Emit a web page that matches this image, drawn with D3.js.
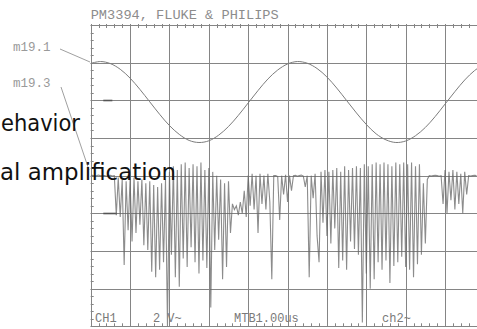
<!DOCTYPE html>
<html>
<head>
<meta charset="utf-8">
<script src="https://cdn.jsdelivr.net/npm/d3@7"></script>
<style>
  html, body { margin: 0; padding: 0; background: #fff; }
  svg { display: block; }
</style>
</head>
<body>
<div id="chart"></div>
<script>
// scope screen: 10 x 8 divisions, both channels 2 V/div, time base 1.00 us/div
const header = 'PM3394, FLUKE & PHILIPS';
const markerLabels = ['m19.1', 'm19.3'];
const footerLabels = ['CH1', '2 V~', 'MTB1.00us', 'ch2~'];
const overlayLabels = ['ehavior', 'al amplification'];

const voltsPerDiv = 2;
const ch1Offset = 2;   // ground level of CH1, in divisions above centre
const ch2Offset = -1;  // ground level of CH2

// CH1, one sample every 0.25 div (volts)
const ch1Step = 0.25;
const ch1Volts = [
  1.96, 2.06, 1.95, 1.65, 1.18, 0.58, -0.08, -0.74, -1.34, -1.81,
  -2.13, -2.24, -2.15, -1.85, -1.39, -0.80, -0.14, 0.52, 1.13, 1.61,
  1.93, 2.06, 1.97, 1.69, 1.24, 0.65, -0.01, -0.67, -1.28, -1.78,
  -2.10, -2.24, -2.16, -1.88, -1.44, -0.86, -0.20, 0.46, 1.08, 1.58,
  1.92
];

// CH2, one sample every 0.05 div (volts)
const ch2Step = 0.05;
const ch2Volts = [
  2.00, 2.02, 1.98, 2.00, 2.03, 1.99, 2.00, 2.01, 1.97, 2.00,
  2.02, 1.98, 2.00, -0.10, 1.90, -0.20, 1.80, -2.75, 1.70, -0.90,
  1.80, -1.50, 1.90, -1.05, 1.70, -0.60, 1.80, -1.70, 1.60, -1.95,
  1.70, -3.10, 1.50, -3.40, 1.40, -3.00, 1.60, -2.60, 1.80, -6.00,
  2.20, -2.20, 2.50, -3.40, 2.30, -3.90, 2.60, -2.40, 2.70, -2.85,
  2.40, -1.80, 2.60, -2.60, 2.50, -3.20, 2.70, -2.50, 2.30, -2.90,
  2.40, -5.00, 2.20, -1.95, 2.00, -1.40, 1.80, -3.50, 1.60, -2.85,
  1.70, -1.05, 0.50, 0.20, 0.40, -0.10, 0.60, 0.00, 1.20, -0.20,
  2.00, 0.40, 2.10, 0.20, 2.00, -1.05, 2.10, 0.50, 2.00, 0.20,
  2.10, 0.60, -3.50, 2.00, 2.00, 1.95, -0.35, 2.00, 1.00, 2.05,
  0.60, 2.00, 1.20, 2.00, 2.02, 1.97, 2.00, 2.03, 1.98, 1.40,
  2.00, -3.40, 2.00, 0.80, 2.10, -1.20, -2.60, 2.20, -0.50, 2.30,
  -1.20, 2.20, -1.60, 2.30, -0.80, 2.40, -2.90, 2.20, -2.50, 2.50,
  -3.00, 2.30, -1.50, 2.40, -1.90, 2.50, -2.20, 2.40, -5.80, 2.60,
  -3.20, 2.50, -4.00, 2.60, -3.50, 2.70, -2.60, 2.60, -3.00, 2.70,
  -2.50, 2.60, -3.70, 2.50, -2.80, 2.70, -2.60, 2.60, -2.30, 2.70,
  -2.85, 2.60, -3.00, 2.70, -3.40, 2.50, -2.70, 2.60, -2.20, 1.60,
  -1.60, 1.80, 2.00, 1.98, 2.00, 2.02, 2.00, 1.97, 2.00, 0.50,
  2.30, 0.00, 2.20, 0.70, 2.30, 0.20, 2.20, 0.50, 2.10, 0.00,
  2.20, 1.00, 2.00, 1.98, 2.00, 2.02, 2.00
];

const width = 477, height = 329;

const x = d3.scaleLinear().domain([0, 10]).range([90.7, 484.4]);
const y = d3.scaleLinear().domain([-4, 4]).range([326.3, 25]);

const svg = d3.select('#chart').append('svg')
  .attr('width', width)
  .attr('height', height)
  .attr('viewBox', [0, 0, width, height]);

svg.append('rect').attr('width', width).attr('height', height).attr('fill', '#fff');

svg.append('clipPath').attr('id', 'screen')
  .append('rect')
  .attr('x', x(0)).attr('y', y(4))
  .attr('width', x(10) - x(0)).attr('height', y(-4) - y(4));

// graticule
const grid = svg.append('g').attr('stroke', '#858585').attr('stroke-width', 1).attr('fill', 'none');

grid.selectAll('line.v')
  .data(d3.range(0, 11))
  .join('line')
  .attr('class', 'v')
  .attr('x1', (d) => Math.round(x(d)) + 0.5).attr('x2', (d) => Math.round(x(d)) + 0.5)
  .attr('y1', y(4)).attr('y2', y(-4));

grid.selectAll('line.h')
  .data(d3.range(-4, 5))
  .join('line')
  .attr('class', 'h')
  .attr('x1', x(0)).attr('x2', x(10))
  .attr('y1', (d) => Math.round(y(d)) + 0.5).attr('y2', (d) => Math.round(y(d)) + 0.5);

// minor ticks, 5 per division, on the border
const minorX = d3.range(0, 50.01).map((d) => d / 5);
const minorY = d3.range(-20, 20.01).map((d) => d / 5);

grid.selectAll('line.tt')
  .data(minorX)
  .join('line')
  .attr('class', 'tt')
  .attr('x1', (d) => Math.round(x(d)) + 0.5).attr('x2', (d) => Math.round(x(d)) + 0.5)
  .attr('y1', y(4) - 1).attr('y2', y(4) + 3);

grid.selectAll('line.tb')
  .data(minorX)
  .join('line')
  .attr('class', 'tb')
  .attr('x1', (d) => Math.round(x(d)) + 0.5).attr('x2', (d) => Math.round(x(d)) + 0.5)
  .attr('y1', y(-4) - 3).attr('y2', y(-4));

grid.selectAll('line.tl')
  .data(minorY)
  .join('line')
  .attr('class', 'tl')
  .attr('x1', x(0)).attr('x2', x(0) + 3)
  .attr('y1', (d) => Math.round(y(d)) + 0.5).attr('y2', (d) => Math.round(y(d)) + 0.5);

// ground level markers
svg.append('g').attr('stroke', '#555').attr('stroke-width', 1.6)
  .selectAll('line')
  .data([[ch1Offset, 0.32, 0.55], [ch2Offset, 0.32, 0.67]])
  .join('line')
  .attr('x1', (d) => x(d[1])).attr('x2', (d) => x(d[2]))
  .attr('y1', (d) => Math.round(y(d[0])) + 0.5).attr('y2', (d) => Math.round(y(d[0])) + 0.5);

// traces
const traces = svg.append('g').attr('clip-path', 'url(#screen)').attr('fill', 'none');

const ch1Line = d3.line()
  .x((d, i) => x(i * ch1Step))
  .y((d) => y(d / voltsPerDiv + ch1Offset))
  .curve(d3.curveCatmullRom);

traces.append('path')
  .datum(ch1Volts)
  .attr('d', ch1Line)
  .attr('stroke', '#7c7c7c')
  .attr('stroke-width', 1);

const ch2Line = d3.line()
  .x((d, i) => x(i * ch2Step))
  .y((d) => y(d / voltsPerDiv + ch2Offset));

traces.append('path')
  .datum(ch2Volts)
  .attr('d', ch2Line)
  .attr('stroke', '#666')
  .attr('stroke-width', 1.1)
  .attr('stroke-opacity', 0.75);

// screen texts
const mono = svg.append('g')
  .attr('font-family', '"Liberation Mono", "DejaVu Sans Mono", monospace')
  .attr('fill', '#8c8c8c');

mono.append('text')
  .attr('x', x(0)).attr('y', 19)
  .attr('font-size', 13)
  .attr('textLength', 188)
  .attr('lengthAdjust', 'spacingAndGlyphs')
  .text(header);

const footerAt = [0.11, 1.58, 3.64, 7.4];
mono.selectAll('text.foot')
  .data(footerLabels)
  .join('text')
  .attr('class', 'foot')
  .attr('x', (d, i) => x(footerAt[i]))
  .attr('y', y(-4) - 4)
  .attr('font-size', 12)
  .attr('fill', '#7a7a7a')
  .text((d) => d);

// marker labels with leader lines
const markerAt = [[13, 51, 60, 49, 90, 62], [13, 87, 61, 87, 89, 170]];
mono.selectAll('text.mk')
  .data(markerLabels)
  .join('text')
  .attr('class', 'mk')
  .attr('x', (d, i) => markerAt[i][0])
  .attr('y', (d, i) => markerAt[i][1])
  .attr('font-size', 12.5)
  .attr('fill', '#9a9a9a')
  .text((d) => d);

svg.append('g').attr('stroke', '#a0a0a0').attr('stroke-width', 1)
  .selectAll('line')
  .data(markerAt)
  .join('line')
  .attr('x1', (d) => d[2]).attr('y1', (d) => d[3])
  .attr('x2', (d) => d[4]).attr('y2', (d) => d[5]);

// page text lying over the picture
const overlayAt = [[1, 131, 80], [0, 180, 176]];
svg.append('g')
  .attr('font-family', '"DejaVu Sans", Verdana, sans-serif')
  .attr('font-size', 23)
  .attr('fill', '#111')
  .selectAll('text')
  .data(overlayLabels)
  .join('text')
  .attr('x', (d, i) => overlayAt[i][0])
  .attr('y', (d, i) => overlayAt[i][1])
  .attr('textLength', (d, i) => overlayAt[i][2] - overlayAt[i][0])
  .attr('lengthAdjust', 'spacingAndGlyphs')
  .text((d) => d);
</script>
</body>
</html>
